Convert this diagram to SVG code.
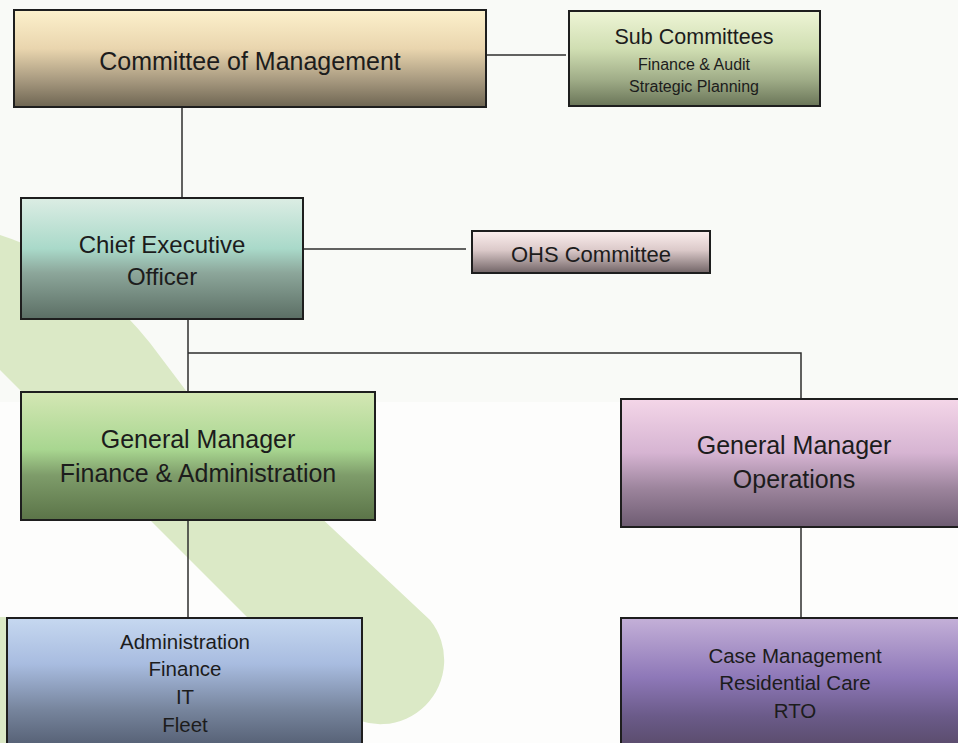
<svg xmlns="http://www.w3.org/2000/svg" width="958" height="743" viewBox="0 0 958 743">
<style>
.box{stroke:#1e1e1e;stroke-width:2}
.lbl{font-family:"Liberation Sans",Arial,sans-serif;fill:#1c1c1c;text-anchor:middle}
.conn{stroke:#2e2e2e;stroke-width:1.5;fill:none}
</style>
<defs>
<linearGradient id="gCom" x1="0" y1="0" x2="0" y2="1"><stop offset="0" stop-color="#fdf1cc"/><stop offset="0.4" stop-color="#e9d5ae"/><stop offset="0.72" stop-color="#a89a80"/><stop offset="1" stop-color="#6e6552"/></linearGradient>
<linearGradient id="gSub" x1="0" y1="0" x2="0" y2="1"><stop offset="0" stop-color="#eef5d6"/><stop offset="0.4" stop-color="#d0deb2"/><stop offset="0.72" stop-color="#a0ad88"/><stop offset="1" stop-color="#6a7558"/></linearGradient>
<linearGradient id="gCeo" x1="0" y1="0" x2="0" y2="1"><stop offset="0" stop-color="#dcede4"/><stop offset="0.42" stop-color="#a9d9c9"/><stop offset="0.62" stop-color="#8ca69a"/><stop offset="1" stop-color="#5b6e64"/></linearGradient>
<linearGradient id="gOhs" x1="0" y1="0" x2="0" y2="1"><stop offset="0" stop-color="#fcefee"/><stop offset="0.45" stop-color="#dccaca"/><stop offset="1" stop-color="#716466"/></linearGradient>
<linearGradient id="gGmf" x1="0" y1="0" x2="0" y2="1"><stop offset="0" stop-color="#d4e7b4"/><stop offset="0.45" stop-color="#a8d690"/><stop offset="0.65" stop-color="#7e9c6a"/><stop offset="1" stop-color="#5b7448"/></linearGradient>
<linearGradient id="gGmo" x1="0" y1="0" x2="0" y2="1"><stop offset="0" stop-color="#f4d6e8"/><stop offset="0.42" stop-color="#d6b4d2"/><stop offset="0.7" stop-color="#9c849c"/><stop offset="1" stop-color="#6e5c72"/></linearGradient>
<linearGradient id="gAdm" x1="0" y1="0" x2="0" y2="1"><stop offset="0" stop-color="#c6d8f0"/><stop offset="0.35" stop-color="#a8bce0"/><stop offset="0.7" stop-color="#76849c"/><stop offset="1" stop-color="#525c70"/></linearGradient>
<linearGradient id="gOps" x1="0" y1="0" x2="0" y2="1"><stop offset="0" stop-color="#c4b0d8"/><stop offset="0.45" stop-color="#8e78b8"/><stop offset="0.75" stop-color="#6a5a88"/><stop offset="1" stop-color="#584a68"/></linearGradient>
</defs>

<rect x="0" y="0" width="958" height="743" fill="#fdfdfc"/>
<rect x="0" y="0" width="958" height="402" fill="#f9faf7"/>
<path d="M 0,235 Q 85,262 150,343 L 187,392 L 430,620 A 64 64 0 0 1 340,710 L 0,370 Z" fill="#dbe9c6"/>
<rect x="0" y="617" width="9" height="126" fill="#dbe9c6"/>

<g id="connectors">
<line class="conn" x1="182" y1="107" x2="182" y2="198"/>
<line class="conn" x1="486" y1="55" x2="566" y2="55"/>
<line class="conn" x1="303" y1="249" x2="466" y2="249"/>
<polyline class="conn" points="188,319 188,392"/>
<polyline class="conn" points="188,353 801,353 801,399"/>
<line class="conn" x1="188" y1="520" x2="188" y2="618"/>
<line class="conn" x1="801" y1="527" x2="801" y2="618"/>
</g>

<g id="committee">
<rect class="box" x="14" y="10" width="472" height="97" fill="url(#gCom)" stroke-width="1.5"/>
<text class="lbl" x="250" y="70" font-size="25">Committee of Management</text>
</g>

<g id="subcommittees">
<rect class="box" x="569" y="11" width="251" height="95" fill="url(#gSub)"/>
<text class="lbl" x="694" y="44" font-size="21.5">Sub Committees</text>
<text class="lbl" x="694" y="70" font-size="16">Finance &amp; Audit</text>
<text class="lbl" x="694" y="92" font-size="16">Strategic Planning</text>
</g>

<g id="ceo">
<rect class="box" x="21" y="198" width="282" height="121" fill="url(#gCeo)"/>
<text class="lbl" x="162" y="253" font-size="24">Chief Executive</text>
<text class="lbl" x="162" y="285" font-size="24">Officer</text>
</g>

<g id="ohs">
<rect class="box" x="472" y="231" width="238" height="42" fill="url(#gOhs)"/>
<text class="lbl" x="591" y="262" font-size="22">OHS Committee</text>
</g>

<g id="gm-finance">
<rect class="box" x="21" y="392" width="354" height="128" fill="url(#gGmf)"/>
<text class="lbl" x="198" y="448" font-size="25">General Manager</text>
<text class="lbl" x="198" y="482" font-size="25">Finance &amp; Administration</text>
</g>

<g id="gm-operations">
<rect class="box" x="621" y="399" width="345" height="128" fill="url(#gGmo)"/>
<text class="lbl" x="794" y="454" font-size="25">General Manager</text>
<text class="lbl" x="794" y="488" font-size="25">Operations</text>
</g>

<g id="admin-units">
<rect class="box" x="7" y="618" width="355" height="132" fill="url(#gAdm)"/>
<text class="lbl" x="185" y="649" font-size="20.5">Administration</text>
<text class="lbl" x="185" y="676" font-size="20.5">Finance</text>
<text class="lbl" x="185" y="704" font-size="20.5">IT</text>
<text class="lbl" x="185" y="732" font-size="20.5">Fleet</text>
</g>

<g id="ops-units">
<rect class="box" x="621" y="618" width="345" height="132" fill="url(#gOps)"/>
<text class="lbl" x="795" y="663" font-size="20.5">Case Management</text>
<text class="lbl" x="795" y="690" font-size="20.5">Residential Care</text>
<text class="lbl" x="795" y="718" font-size="20.5">RTO</text>
</g>
</svg>
